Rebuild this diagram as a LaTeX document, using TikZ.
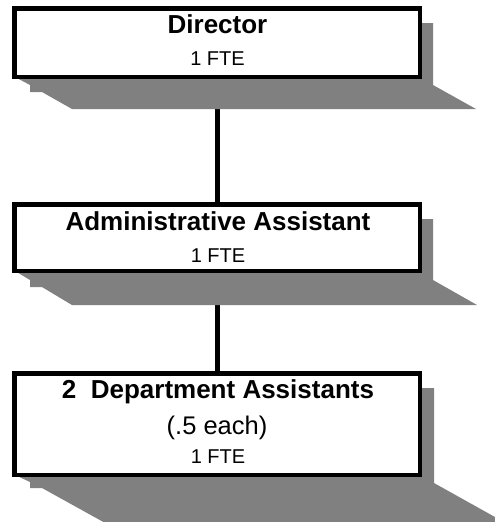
\documentclass[tikz,border=0pt]{standalone}
\usepackage{fontspec}
\setmainfont{Liberation Sans}
\definecolor{shadowgrey}{HTML}{808080}
\pgfdeclarelayer{connlayer}
\pgfdeclarelayer{shadlayer}
\pgfsetlayers{connlayer,shadlayer,main}
\begin{document}
\begin{tikzpicture}[x=1pt,y=-1pt,
  box/.style={draw=black,line width=4.5pt,fill=white,inner sep=0pt,minimum width=405.5pt},
  shadowfill/.style={fill=shadowgrey},
  conn/.style={line width=5pt},
  ttl/.style={font=\fontsize{26}{30}\selectfont\bfseries,anchor=base,inner sep=0pt},
  sub/.style={font=\fontsize{20}{24}\selectfont,anchor=base,inner sep=0pt},
  mid/.style={font=\fontsize{25.5}{30}\selectfont,anchor=base,inner sep=0pt}]
\useasboundingbox (0,0) rectangle (495,522);
\clip (0,0) rectangle (495,522);
% boxes
\node[box,minimum height=68.5pt] (dir) at (217,42.5) {};
\node[box,minimum height=66.5pt] (adm) at (217,237.5) {};
\node[box,minimum height=101.5pt] (dep) at (217,424) {};
% texts
\node[ttl] (dirT) at (217.5,33) {Director};
\node[sub] (dirF) at (217.5,65) {1 FTE};
\node[ttl] (admT) at (218,230) {Administrative Assistant};
\node[sub] (admF) at (218,262) {1 FTE};
\node[ttl] (depT) at (218,398) {2\ \ Department Assistants};
\node[mid] (depE) at (217,434) {(.5 each)};
\node[sub] (depF) at (218,463) {1 FTE};
% shadows
\begin{pgfonlayer}{shadlayer}
\fill[shadowfill] (400,23) -- (433,23) -- (433,85) -- (476,109) -- (72,109) -- (42,92) -- (30,92) -- (30,85) -- (15,77) -- (400,77) -- cycle;
\fill[shadowfill] (400,219) -- (433,219) -- (433,280) -- (477,305) -- (72,305) -- (42,287) -- (30,287) -- (30,280) -- (15,271) -- (400,271) -- cycle;
\fill[shadowfill] (400,388) -- (434,388) -- (434,483) -- (572,560) -- (172,560) -- (42,488) -- (30,488) -- (30,482) -- (15,475) -- (400,475) -- cycle;
\end{pgfonlayer}
% connectors
\begin{pgfonlayer}{connlayer}
\draw[conn] (dir.center) -- (adm.center);
\draw[conn] (adm.center) -- (dep.center);
\end{pgfonlayer}
\end{tikzpicture}
\end{document}
